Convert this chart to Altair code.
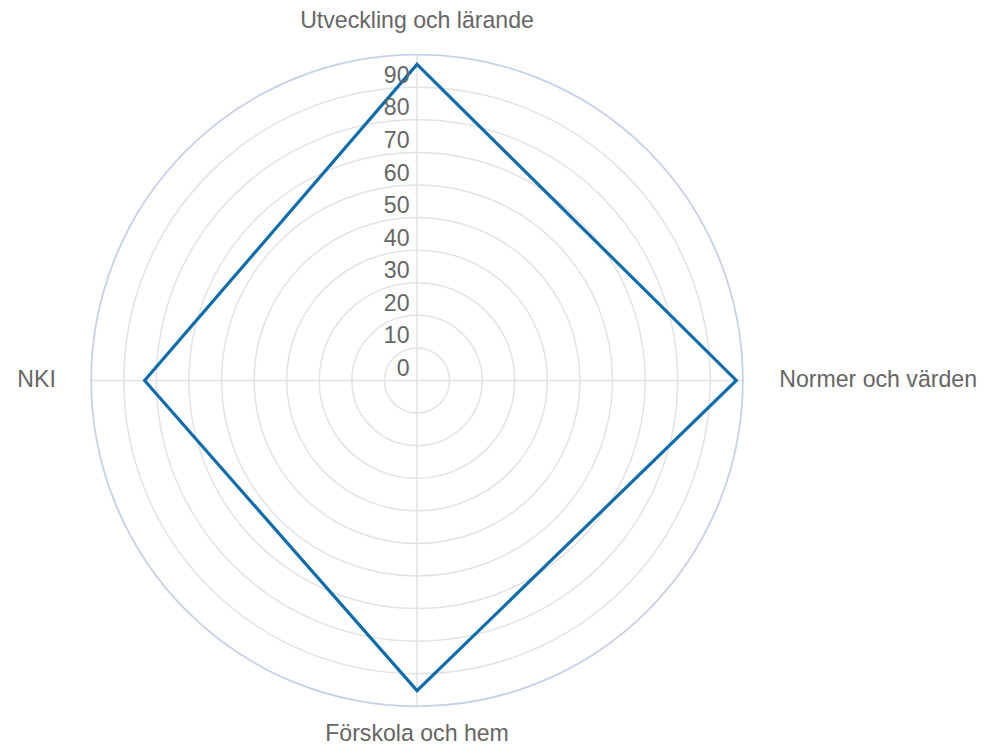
import math
import altair as alt
import pandas as pd

# ---- data ----
categories = ["Utveckling och lärande", "Normer och värden", "Förskola och hem", "NKI"]
values = [97.0, 98.0, 95.2, 83.6]
tick_values = [0, 10, 20, 30, 40, 50, 60, 70, 80, 90]
tick_labels = ["0", "10", "20", "30", "40", "50", "60", "70", "80", "90"]
ring_values = [10, 20, 30, 40, 50, 60, 70, 80, 90]
outer_value = [100]

R_MAX = 100
SIZE = 654
FONT = "Liberation Sans"
FS = 23.2
TEXT_COLOR = "#666666"

n = len(categories)
df = pd.DataFrame({"cat": categories, "value": values, "idx": list(range(n))})
df_ticks = pd.DataFrame({"v": tick_values, "label": tick_labels})
df_rings = pd.DataFrame({"r": ring_values})
df_outer = pd.DataFrame({"r": outer_value})
df_spokes = pd.DataFrame({"idx": list(range(n)), "cat": categories})

xs = alt.Scale(domain=[-R_MAX, R_MAX])
ys = alt.Scale(domain=[-R_MAX, R_MAX])
rs = alt.Scale(type="linear", domain=[0, R_MAX], range=[0, SIZE / 2], zero=True)

ang = f"datum.idx * 2 * PI / {n}"

rings = alt.Chart(df_rings).mark_arc(
    filled=False, stroke="#e3e3e3", strokeWidth=1.5, theta=0, theta2=2 * math.pi
).encode(
    x=alt.datum(0, scale=xs, axis=None),
    y=alt.datum(0, scale=ys, axis=None),
    radius=alt.Radius("r:Q", scale=rs, stack=None),
)

outer = alt.Chart(df_outer).mark_arc(
    filled=False, stroke="#c6d1e7", strokeWidth=1.8, theta=0, theta2=2 * math.pi
).encode(
    x=alt.datum(0, scale=xs, axis=None),
    y=alt.datum(0, scale=ys, axis=None),
    radius=alt.Radius("r:Q", scale=rs, stack=None),
)

spokes = alt.Chart(df_spokes).transform_calculate(
    cx="0", cy="0",
    sx=f"{R_MAX} * sin({ang})", sy=f"{R_MAX} * cos({ang})",
).mark_rule(color="#e3e3e3", strokeWidth=1.5).encode(
    x=alt.X("cx:Q", scale=xs, axis=None),
    y=alt.Y("cy:Q", scale=ys, axis=None),
    x2="sx:Q",
    y2="sy:Q",
)

ticks = alt.Chart(df_ticks).transform_calculate(tx="0").mark_text(
    align="right", baseline="alphabetic", dx=-7.5, dy=-4.5,
    font=FONT, fontSize=FS, color=TEXT_COLOR,
).encode(
    x=alt.X("tx:Q", scale=xs, axis=None),
    y=alt.Y("v:Q", scale=ys, axis=None),
    text="label:N",
)

poly = alt.Chart(df).transform_calculate(
    px=f"datum.value * sin({ang})", py=f"datum.value * cos({ang})"
).mark_line(
    interpolate="linear-closed", color="#0f6dab", strokeWidth=3.2, strokeJoin="miter"
).encode(
    x=alt.X("px:Q", scale=xs, axis=None),
    y=alt.Y("py:Q", scale=ys, axis=None),
    order="idx:Q",
)

name_base = alt.Chart(df_spokes).transform_calculate(
    nx=f"{R_MAX} * sin({ang})", ny=f"{R_MAX} * cos({ang})"
)

def name_layer(i, **kw):
    return name_base.transform_filter(f"datum.idx == {i}").mark_text(
        font=FONT, fontSize=FS, color=TEXT_COLOR, **kw
    ).encode(
        x=alt.X("nx:Q", scale=xs, axis=None),
        y=alt.Y("ny:Q", scale=ys, axis=None),
        text="cat:N",
    )

names = [
    name_layer(0, align="center", baseline="alphabetic", dy=-26.5),
    name_layer(1, align="left", baseline="middle", dx=36.5),
    name_layer(2, align="center", baseline="alphabetic", dy=35),
    name_layer(3, align="right", baseline="middle", dx=-35.5),
]

chart = alt.layer(rings, spokes, outer, poly, ticks, *names).properties(
    width=SIZE, height=SIZE,
    autosize=alt.AutoSizeParams(type="none"),
    padding={"left": 83.5, "top": 45.5, "right": 236, "bottom": 40},
).configure_view(stroke=None)

chart.save("out.html", embed_options={"renderer": "svg", "actions": False})
